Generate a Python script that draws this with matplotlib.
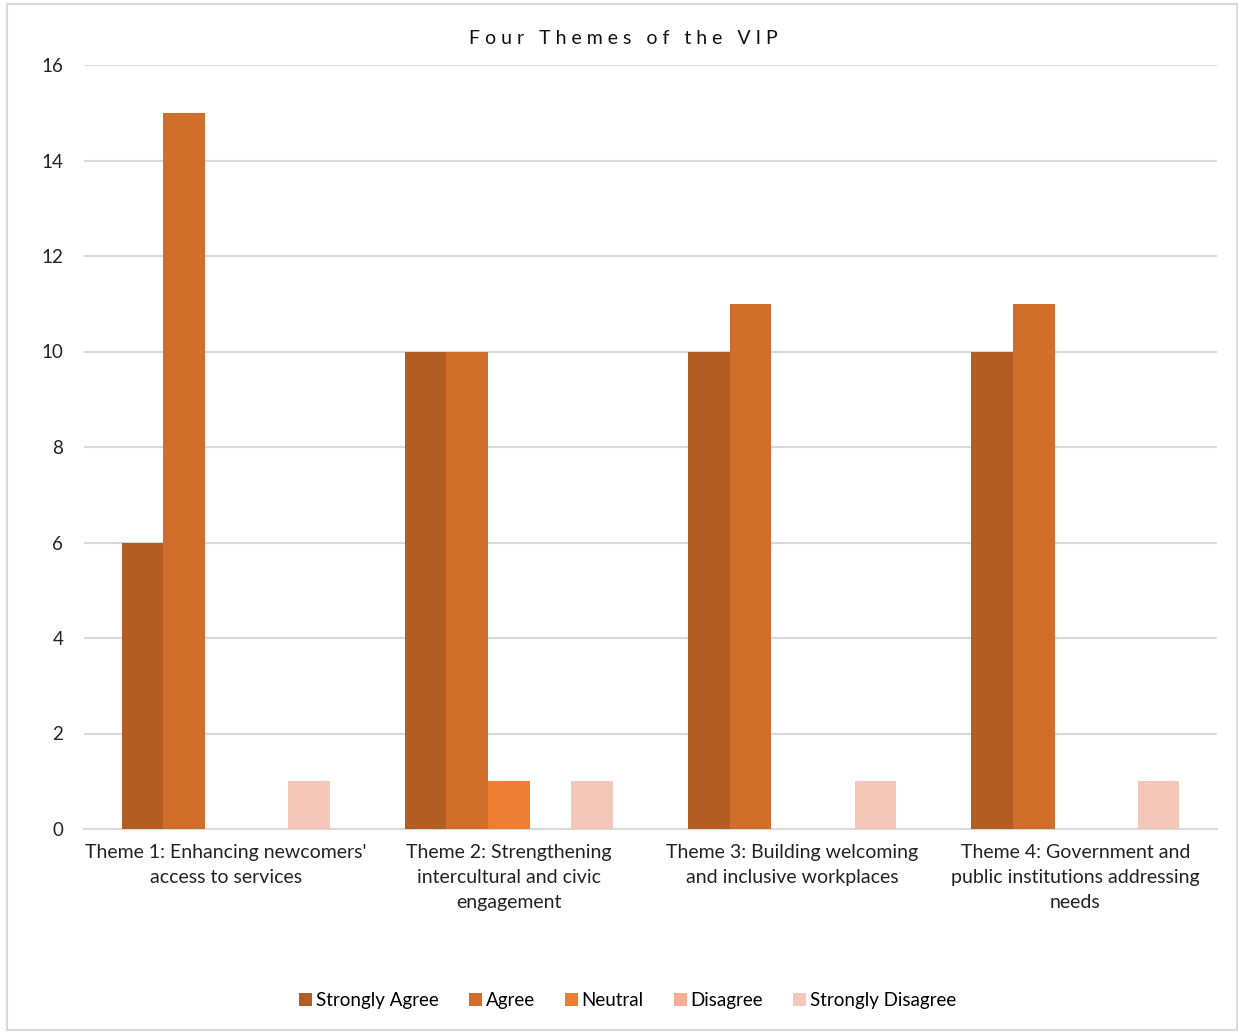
import matplotlib.pyplot as plt
import numpy as np
from matplotlib.patches import Rectangle

plt.rcParams['font.family'] = ['Lato', 'DejaVu Sans']

themes = ["Theme 1: Enhancing newcomers'\naccess to services",
          "Theme 2: Strengthening\nintercultural and civic\nengagement",
          "Theme 3: Building welcoming\nand inclusive workplaces",
          "Theme 4: Government and\npublic institutions addressing\nneeds"]
series = ['Strongly Agree', 'Agree', 'Neutral', 'Disagree', 'Strongly Disagree']
strongly_agree = [6, 10, 10, 10]
agree = [15, 10, 11, 11]
neutral = [0, 1, 0, 0]
disagree = [0, 0, 0, 0]
strongly_disagree = [1, 1, 1, 1]
colors = ['#B35E22', '#D26E2B', '#ED7D31', '#F4AE93', '#F4C7B9']

values = [strongly_agree, agree, neutral, disagree, strongly_disagree]

fig = plt.figure(figsize=(12.39, 10.32), dpi=100)
ax = fig.add_axes([84 / 1239, 1 - 829 / 1032, (1217 - 84) / 1239, (829 - 65) / 1032])

x = np.arange(len(themes))
w = 0.147
for i, (name, vals) in enumerate(zip(series, values)):
    ax.bar(x + (i - 2) * w, vals, w, color=colors[i], label=name, zorder=3)

ax.set_xlim(-0.5, 3.5)
ax.set_ylim(0, 16)
ax.set_yticks(range(0, 17, 2))
ax.yaxis.grid(True, color='#D9D9D9', linewidth=1.5, zorder=0)
for s in ['top', 'right', 'left']:
    ax.spines[s].set_visible(False)
ax.spines['bottom'].set_color('#D9D9D9')
ax.spines['bottom'].set_linewidth(1.5)
ax.tick_params(axis='both', length=0, colors='#222222')
ax.tick_params(axis='y', pad=15, labelsize=13.5)
ax.tick_params(axis='x', pad=11)
ax.set_xticks(x)
ax.set_xticklabels(themes, fontsize=14, linespacing=1.55)

fig.text(0.503, 1 - 39 / 1032, 'F o u r   T h e m e s   o f   t h e   V I P',
         ha='center', va='center', fontsize=14, color='#111111')

leg = ax.legend(loc='center', bbox_to_anchor=(0.48, -0.224), ncol=5, frameon=False,
                fontsize=13.5, handlelength=0.7, handleheight=0.7, handletextpad=0.2,
                columnspacing=1.6)

# thin outer frame
fig.patches.append(Rectangle((7 / 1239, 0.002), 1 - 9 / 1239, 1 - 6 / 1032,
                             transform=fig.transFigure, fill=False,
                             edgecolor='#D9D9D9', linewidth=1.5))

fig.savefig('out.png', dpi=100)
